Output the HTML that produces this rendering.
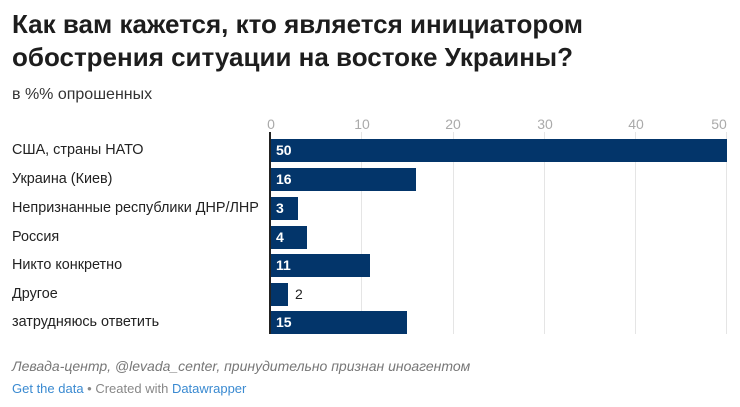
<!DOCTYPE html>
<html><head><meta charset="utf-8"><style>
body{margin:0;width:740px;height:407px;background:#fff;font-family:"Liberation Sans",sans-serif;position:relative;overflow:hidden}
.a{position:absolute;white-space:nowrap}
.t{left:12px;top:8px;font-size:26px;font-weight:bold;line-height:33px;color:#1d1d1d}
.s{left:12px;top:86px;font-size:16px;color:#333}
.tick{top:116px;font-size:14px;color:#aaa;transform:translateX(-50%)}
.g{top:132px;height:202px;width:1px;background:#e5e5e5}
.lab{left:12px;font-size:14.4px;color:#222;line-height:23px}
.bar{left:270px;height:23px;background:#03356a}
.v{font-size:14px;font-weight:bold;color:#fff;line-height:23px}
</style></head><body>
<div class="a t">Как вам кажется, кто является инициатором<br>обострения ситуации на востоке Украины?</div>
<div class="a s">в %% опрошенных</div>
<div class="a g" style="left:361px"></div><div class="a g" style="left:453px"></div><div class="a g" style="left:544px"></div><div class="a g" style="left:635px"></div><div class="a g" style="left:726px"></div>
<div class="a tick" style="left:271px">0</div><div class="a tick" style="left:362px">10</div><div class="a tick" style="left:453px">20</div><div class="a tick" style="left:545px">30</div><div class="a tick" style="left:636px">40</div><div class="a tick" style="left:719px">50</div>
<div class="a lab" style="top:139px">США, страны НАТО</div>
<div class="a bar" style="top:139px;width:457px"></div><div class="a v" style="left:276px;top:139px">50</div>
<div class="a lab" style="top:168px">Украина (Киев)</div>
<div class="a bar" style="top:168px;width:146px"></div><div class="a v" style="left:276px;top:168px">16</div>
<div class="a lab" style="top:197px">Непризнанные республики ДНР/ЛНР</div>
<div class="a bar" style="top:197px;width:28px"></div><div class="a v" style="left:276px;top:197px">3</div>
<div class="a lab" style="top:226px">Россия</div>
<div class="a bar" style="top:226px;width:37px"></div><div class="a v" style="left:276px;top:226px">4</div>
<div class="a lab" style="top:254px">Никто конкретно</div>
<div class="a bar" style="top:254px;width:100px"></div><div class="a v" style="left:276px;top:254px">11</div>
<div class="a lab" style="top:283px">Другое</div>
<div class="a bar" style="top:283px;width:18px"></div><div class="a v" style="left:295px;top:283px;color:#222;font-weight:normal">2</div>
<div class="a lab" style="top:311px">затрудняюсь ответить</div>
<div class="a bar" style="top:311px;width:137px"></div><div class="a v" style="left:276px;top:311px">15</div>
<div class="a" style="left:269px;top:132px;width:2px;height:202px;background:#222"></div>
<div class="a" style="left:12px;top:358px;font-size:14px;font-style:italic;color:#777">Левада-центр, @levada_center, принудительно признан иноагентом</div>
<div class="a" style="left:12px;top:381px;font-size:13px;color:#888"><span style="color:#3a8ad1">Get the data</span> • Created with <span style="color:#3a8ad1">Datawrapper</span></div>
</body></html>
